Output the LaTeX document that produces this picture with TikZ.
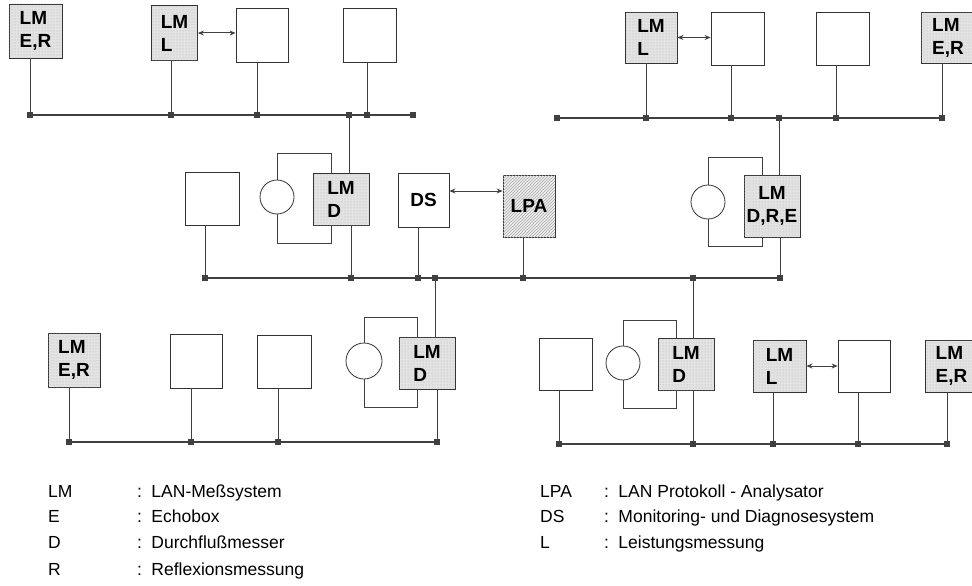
\documentclass[tikz,border=0pt]{standalone}
\usepackage{fontspec}
\setmainfont{Liberation Sans}
\usetikzlibrary{arrows.meta,patterns}

\newcommand{\boxfont}{\fontsize{19}{23}\bfseries\selectfont}
\newcommand{\keyfont}{\fontsize{17.5}{20}\selectfont}

\begin{document}
\begin{tikzpicture}[x=1pt,y=-1pt,
  dev/.style={draw=black!80,line width=0.8pt,fill=white,inner sep=0pt,
    minimum width=52pt,minimum height=54pt,font=\boxfont,align=left},
  lm/.style={dev,fill=gray!22,postaction={pattern=dots,pattern color=gray!60}},
  lpa/.style={dev,fill=gray!12,postaction={pattern=north east lines,pattern color=gray!70}},
  meter/.style={circle,draw=black!80,line width=0.8pt,minimum size=34pt,inner sep=0pt},
  tap/.style={fill=black!75,minimum size=5.5pt,inner sep=0pt},
  bus/.style={line width=1.3pt,black!75},
  stem/.style={line width=0.6pt,black!75},
  link/.style={line width=1pt,black!75,{Stealth[length=6pt,width=5pt]}-{Stealth[length=6pt,width=5pt]}},
  key/.style={anchor=base west,inner sep=0pt,font=\keyfont}]
  \useasboundingbox (0,0) rectangle (972,586);
  \clip (0,0) rectangle (972,586);
  % top left segment
  \node[lm,minimum width=53pt] (tlA) at (35.5,31) {LM\\E,R};
  \node[lm,minimum width=46pt,minimum height=55pt] (tlB) at (174.5,33) {LM\\L};
  \node[dev] (tlC) at (262,35) {};
  \node[dev,minimum width=53pt] (tlD) at (369.5,35) {};
  % top right segment
  \node[lm,minimum height=51pt] (trA) at (651,37.5) {LM\\L};
  \node[dev,minimum width=53pt,minimum height=53pt] (trB) at (737.5,38.5) {};
  \node[dev,minimum width=53pt,minimum height=53pt] (trC) at (842.5,38.5) {};
  \node[lm,minimum width=54pt,minimum height=51pt] (trD) at (948,37.5) {LM\\E,R};
  % middle segment
  \node[dev,minimum width=54pt,minimum height=53pt] (mA) at (212,198.5) {};
  \node[meter] (mC1) at (277,197) {};
  \node[lm,minimum width=56pt,minimum height=52pt] (mB) at (341,199) {LM\\D};
  \node[dev,minimum width=51pt] (mD) at (423.5,200) {DS};
  \node[lpa,minimum height=62pt] (mE) at (529,206) {LPA};
  \node[meter] (mC2) at (708,202) {};
  \node[lm,minimum width=56pt,minimum height=62pt,align=center] (mF) at (772,206) {LM\\D,R,E};
  % bottom left segment
  \node[lm] (blA) at (74,360) {LM\\E,R};
  \node[dev] (blB) at (196,361) {};
  \node[dev,minimum width=54pt,minimum height=53pt] (blC) at (284,361.5) {};
  \node[meter,minimum size=36pt] (blM) at (364,361) {};
  \node[lm,minimum width=56pt,minimum height=52pt] (blD) at (427,363) {LM\\D};
  % bottom right segment
  \node[dev,minimum width=53pt,minimum height=52pt] (brA) at (565.5,364) {};
  \node[meter] (brM) at (623,363) {};
  \node[lm,minimum width=56pt,minimum height=52pt] (brB) at (686,364) {LM\\D};
  \node[lm,minimum width=53pt,minimum height=52pt] (brC) at (779.5,366) {LM\\L};
  \node[dev,minimum height=52pt] (brD) at (864,366) {};
  \node[lm,minimum width=53pt,minimum height=52pt] (brE) at (951.5,366) {LM\\E,R};
  % bus taps
  \foreach \n/\x in {1/30,2/171,3/257,4/349,5/367,6/413}
    \node[tap] (tl\n) at (\x,115) {};
  \foreach \n/\x in {1/557,2/646,3/731,4/779,5/836,6/942}
    \node[tap] (tr\n) at (\x,118) {};
  \foreach \n/\x in {1/205,2/351,3/418,4/435,5/523,6/693,7/780}
    \node[tap] (m\n) at (\x,278) {};
  \foreach \n/\x in {1/69,2/191,3/278,4/437}
    \node[tap] (bl\n) at (\x,442) {};
  \foreach \n/\x in {1/559,2/693,3/773,4/858,5/947}
    \node[tap] (br\n) at (\x,444) {};
  % buses
  \draw[bus] (tl1.center) -- (tl6.center);
  \draw[bus] (tr1.center) -- (tr6.center);
  \draw[bus] (m1.center) -- (m7.center);
  \draw[bus] (bl1.center) -- (bl4.center);
  \draw[bus] (br1.center) -- (br5.center);
  % stems
  \foreach \n/\unit in {1/tlA,2/tlB,3/tlC,5/tlD}
    \draw[stem] (tl\n) -- (tl\n |- \unit.south);
  \foreach \n/\unit in {2/trA,3/trB,5/trC,6/trD}
    \draw[stem] (tr\n) -- (tr\n |- \unit.south);
  \foreach \n/\unit in {1/mA,2/mB,3/mD,5/mE,7/mF}
    \draw[stem] (m\n) -- (m\n |- \unit.south);
  \foreach \n/\unit in {1/blA,2/blB,3/blC,4/blD}
    \draw[stem] (bl\n) -- (bl\n |- \unit.south);
  \foreach \n/\unit in {1/brA,2/brB,3/brC,4/brD,5/brE}
    \draw[stem] (br\n) -- (br\n |- \unit.south);
  % links between segments
  \draw[stem] (tl4) -- (tl4 |- mB.north);
  \draw[stem] (tr4) -- (tr4 |- mF.north);
  \draw[stem] (m4) -- (m4 |- blD.north);
  \draw[stem] (m6) -- (m6 |- brB.north);
  % flow meter loops
  \draw[stem] (mC1.north) |- ([xshift=-10pt,yshift=19pt]mB.north) -- ([xshift=-10pt]mB.north);
  \draw[stem] (mC1.south) |- ([xshift=-10pt,yshift=-18pt]mB.south) -- ([xshift=-10pt]mB.south);
  \draw[stem] (mC2.north) |- ([xshift=-10pt,yshift=17pt]mF.north) -- ([xshift=-10pt]mF.north);
  \draw[stem] (mC2.south) |- ([xshift=-10pt,yshift=-9pt]mF.south) -- ([xshift=-10pt]mF.south);
  \draw[stem] (blM.north) |- ([xshift=-10pt,yshift=19pt]blD.north) -- ([xshift=-10pt]blD.north);
  \draw[stem] (blM.south) |- ([xshift=-10pt,yshift=-18pt]blD.south) -- ([xshift=-10pt]blD.south);
  \draw[stem] (brM.north) |- ([xshift=-10pt,yshift=17pt]brB.north) -- ([xshift=-10pt]brB.north);
  \draw[stem] (brM.south) |- ([xshift=-10pt,yshift=-18pt]brB.south) -- ([xshift=-10pt]brB.south);
  % two-way links
  \draw[link] (tlB.east) -- (tlB.east -| tlC.west);
  \draw[link] (trA.east) -- (trA.east -| trB.west);
  \draw[link] ([yshift=9pt]mD.east) -- ([yshift=9pt]mD.east -| mE.west);
  \draw[link] (brC.east) -- (brC.east -| brD.west);
  % legend
  \foreach \n/\abbr/\txt/\y in {1/LM/LAN-Meßsystem/497,2/E/Echobox/522,
      3/D/Durchflußmesser/548,4/R/Reflexionsmessung/575}{
    \node[key] (ka\n) at (48,\y) {\abbr};
    \node[key] (ta\n) at (137,\y) {:\, \txt};
  }
  \foreach \n/\abbr/\txt/\y in {1/LPA/LAN Protokoll - Analysator/497,
      2/DS/Monitoring- und Diagnosesystem/522,3/L/Leistungsmessung/548}{
    \node[key] (kb\n) at (540,\y) {\abbr};
    \node[key] (tb\n) at (604,\y) {:\, \txt};
  }
\end{tikzpicture}
\end{document}
